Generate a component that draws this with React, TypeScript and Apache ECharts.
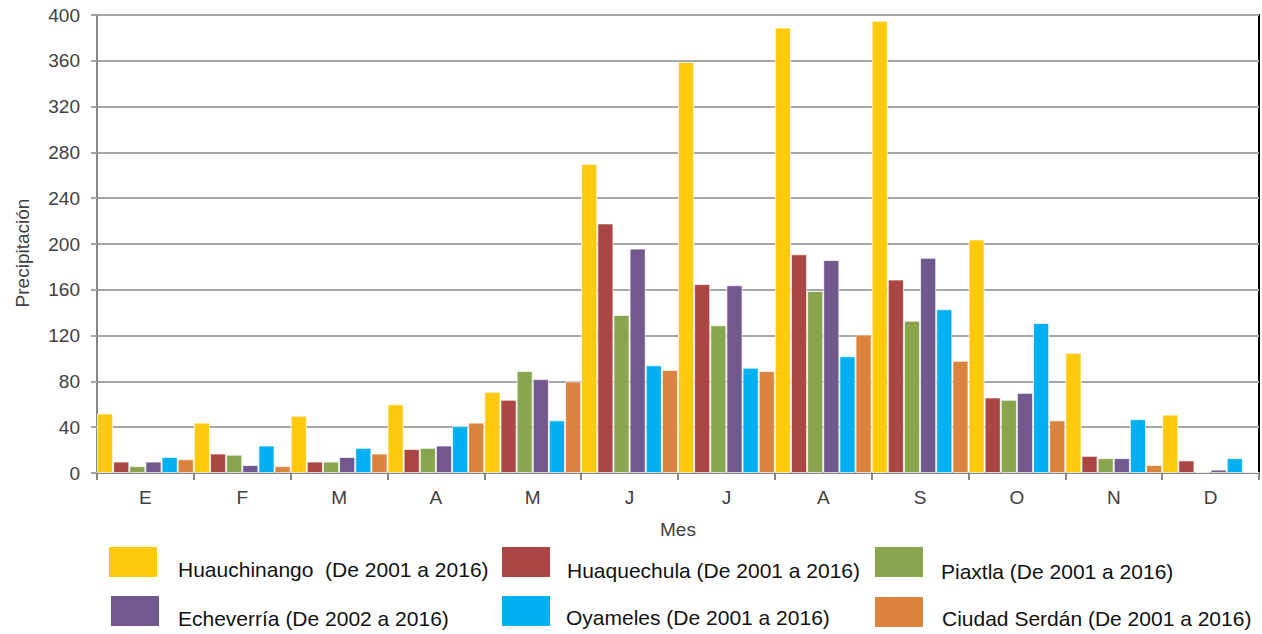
import React, { useEffect, useRef } from "react";
import * as echarts from "echarts";

const months = ["E", "F", "M", "A", "M", "J", "J", "A", "S", "O", "N", "D"];
const yTicks = { min: 0, max: 400, interval: 40 };

const seriesNames = [
  "Huauchinango  (De 2001 a 2016)",
  "Huaquechula (De 2001 a 2016)",
  "Piaxtla (De 2001 a 2016)",
  "Echeverría (De 2002 a 2016)",
  "Oyameles (De 2001 a 2016)",
  "Ciudad Serdán (De 2001 a 2016)",
];
const colors = ["#FFC90E", "#AA4643", "#89A54E", "#71588F", "#00B0F0", "#DB843D"];

const huauchinango = [52, 44, 50, 60, 71, 270, 359, 389, 395, 204, 105, 51];
const huaquechula = [10, 17, 10, 21, 64, 218, 165, 191, 169, 66, 15, 11];
const piaxtla = [6, 16, 10, 22, 89, 138, 129, 159, 133, 64, 13, 1];
const echeverria = [10, 7, 14, 24, 82, 196, 164, 186, 188, 70, 13, 3];
const oyameles = [14, 24, 22, 41, 46, 94, 92, 102, 143, 131, 47, 13];
const ciudadSerdan = [12, 6, 17, 44, 80, 90, 89, 121, 98, 46, 7, 1];

const seriesData = [huauchinango, huaquechula, piaxtla, echeverria, oyameles, ciudadSerdan];

// legend layout: swatch [x, y], text [x, centerY]
const legendSwatch = [
  [109, 547],
  [502, 547],
  [875, 547],
  [111, 596],
  [502, 596],
  [875, 597],
];
const legendText = [
  [178, 569],
  [567, 570],
  [941, 571],
  [178, 618],
  [566, 617],
  [942, 618],
];

const FONT = "'Liberation Sans', Arial, sans-serif";

export default function App() {
  const ref = useRef<HTMLDivElement>(null);
  useEffect(() => {
    if (!ref.current) return;
    const chart = echarts.init(ref.current, null, { renderer: "svg" });
    const legendGraphics: any[] = [];
    seriesNames.forEach((name, i) => {
      legendGraphics.push({
        type: "rect",
        shape: { x: legendSwatch[i][0], y: legendSwatch[i][1], width: 48, height: 30 },
        style: { fill: colors[i] },
        silent: true,
      });
      legendGraphics.push({
        type: "text",
        x: legendText[i][0],
        y: legendText[i][1],
        style: {
          text: name,
          fill: "#111111",
          font: `21px ${FONT}`,
          verticalAlign: "middle",
          align: "left",
        },
        silent: true,
      });
    });
    chart.setOption({
      animation: false,
      backgroundColor: "#ffffff",
      textStyle: { fontFamily: FONT },
      grid: {
        left: 97,
        right: 3,
        top: 15,
        bottom: 161,
        show: true,
        borderColor: "#000000",
        borderWidth: 2,
        backgroundColor: "transparent",
        outerBoundsMode: "none",
        containLabel: false,
      },
      graphic: legendGraphics,
      xAxis: {
        type: "category",
        data: months,
        name: "Mes",
        nameLocation: "middle",
        nameGap: 47,
        nameTextStyle: { fontSize: 19, color: "#404040", fontFamily: FONT },
        axisLine: { lineStyle: { color: "#868686", width: 2 } },
        axisTick: { show: true, length: 7, lineStyle: { color: "#868686", width: 2 } },
        axisLabel: { fontSize: 19, color: "#404040", margin: 15, fontFamily: FONT },
        splitLine: { show: false },
      },
      yAxis: {
        type: "value",
        min: yTicks.min,
        max: yTicks.max,
        interval: yTicks.interval,
        name: "Precipitación",
        nameLocation: "middle",
        nameRotate: 90,
        nameGap: 65,
        nameTextStyle: {
          fontSize: 19,
          color: "#404040",
          fontFamily: FONT,
          padding: [0, 18, 0, 0],
        },
        axisLine: { show: true, lineStyle: { color: "#868686", width: 2 } },
        axisTick: { show: true, length: 6, lineStyle: { color: "#a6a6a6", width: 2 } },
        axisLabel: { fontSize: 19, color: "#404040", margin: 17, fontFamily: FONT },
        splitLine: { show: true, lineStyle: { color: "#a6a6a6", width: 2 } },
      },
      series: seriesNames.map((name, i) => ({
        name,
        type: "bar",
        data: seriesData[i],
        barGap: "0%",
        barCategoryGap: "0%",
        itemStyle: {
          color: colors[i],
          borderColor: "rgba(255,255,255,0.7)",
          borderWidth: 1,
        },
      })),
    });
    return () => chart.dispose();
  }, []);
  return (
    <div
      ref={ref}
      style={{ position: "absolute", left: 0, top: 0, width: 1262, height: 634 }}
    />
  );
}
